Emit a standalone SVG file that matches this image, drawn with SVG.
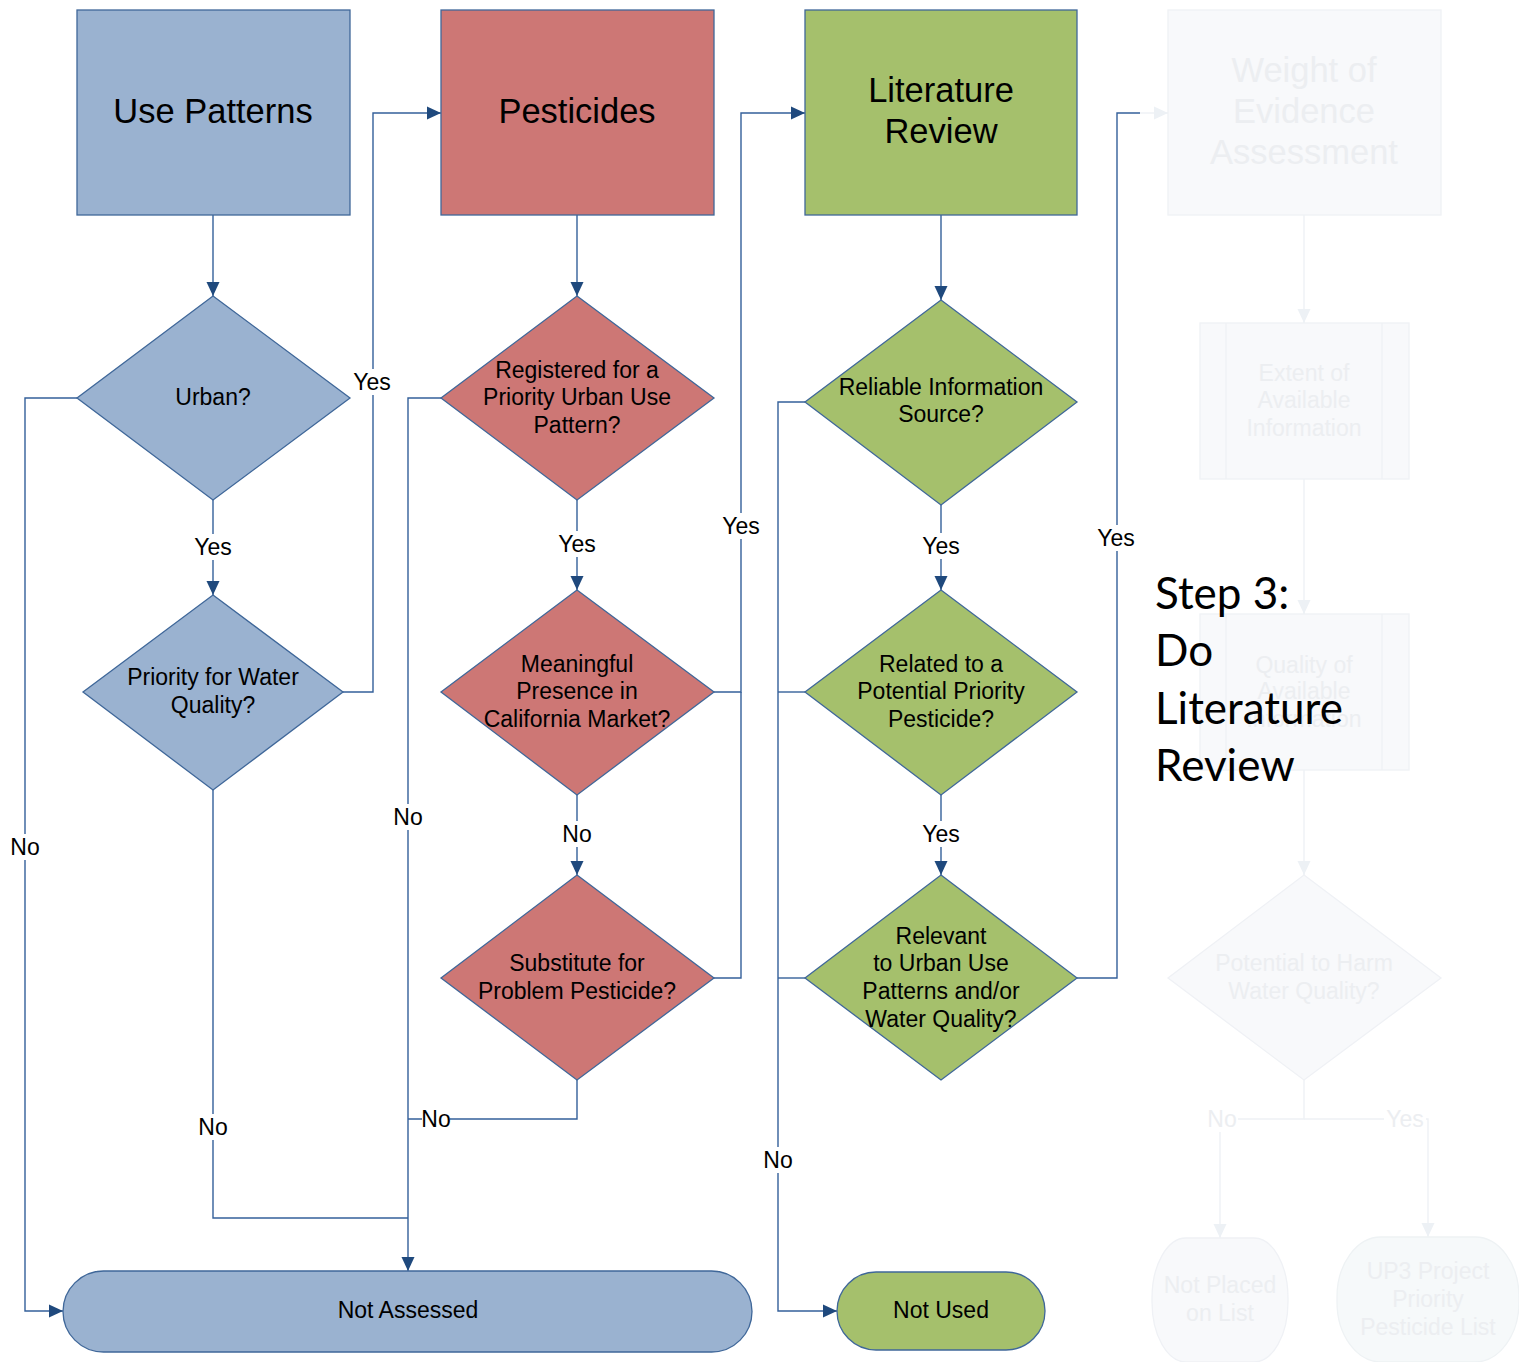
<svg xmlns="http://www.w3.org/2000/svg" width="1519" height="1362" viewBox="0 0 1519 1362">
  <defs>
    <marker id="arr" markerUnits="userSpaceOnUse" markerWidth="15" markerHeight="14" refX="14" refY="7" orient="auto">
      <path d="M0,0.5 L14,7 L0,13.5 z" fill="#1f497d"/>
    </marker>
    <marker id="arrF" markerUnits="userSpaceOnUse" markerWidth="15" markerHeight="14" refX="14" refY="7" orient="auto">
      <path d="M0,0.5 L14,7 L0,13.5 z" fill="#edf1f5"/>
    </marker>
  </defs>
  <style>
    .t { font-family: "Liberation Sans", Arial, sans-serif; fill: #000; text-anchor: middle; }
    .hd { font-size: 34.5px; }
    .q { font-size: 23px; }
    .lbl { font-size: 23px; }
    .blue { fill: #9ab2d0; stroke: #3f6799; stroke-width: 1.3; }
    .red { fill: #cd7775; stroke: #3f6799; stroke-width: 1.3; }
    .green { fill: #a5c06c; stroke: #3f6799; stroke-width: 1.3; }
    .fade { fill: #f8f9fb; stroke: #eff1f5; stroke-width: 1.3; }
    .fadeT { fill: #eceef1; }
    .conn { fill: none; stroke: #34609a; stroke-width: 1.4; }
    .connF { fill: none; stroke: #eef1f5; stroke-width: 1.4; }
    .bg { fill: #fff; }
    .step { font-family: Lato, "Open Sans", sans-serif; font-size: 44px; fill: #000; }
  </style>
  <rect width="1519" height="1362" fill="#fff"/>

  <!-- connectors -->
  <g id="connectors">
    <path class="conn" d="M213,215 V296" marker-end="url(#arr)"/>
    <path class="conn" d="M213,500 V595" marker-end="url(#arr)"/>
    <path class="conn" d="M77,398 H25 V1311 H63" marker-end="url(#arr)"/>
    <path class="conn" d="M343,692 H373 V113 H441" marker-end="url(#arr)"/>
    <path class="conn" d="M213,790 V1218 H408"/>
    <path class="conn" d="M577,215 V296" marker-end="url(#arr)"/>
    <path class="conn" d="M441,398 H408 V1271" marker-end="url(#arr)"/>
    <path class="conn" d="M577,500 V590" marker-end="url(#arr)"/>
    <path class="conn" d="M714,692 H741 V113 H805" marker-end="url(#arr)"/>
    <path class="conn" d="M577,795 V875" marker-end="url(#arr)"/>
    <path class="conn" d="M714,978 H741 V692"/>
    <path class="conn" d="M577,1080 V1119 H408"/>
    <path class="conn" d="M941,215 V300" marker-end="url(#arr)"/>
    <path class="conn" d="M805,402 H778 V1311 H837" marker-end="url(#arr)"/>
    <path class="conn" d="M805,692 H778"/>
    <path class="conn" d="M805,978 H778"/>
    <path class="conn" d="M941,505 V590" marker-end="url(#arr)"/>
    <path class="conn" d="M941,795 V875" marker-end="url(#arr)"/>
    <path class="conn" d="M1077,978 H1117 V113 H1140"/>
    <path class="connF" d="M1140,113 H1168" marker-end="url(#arrF)"/>
    <path class="connF" d="M1304,215 V323" marker-end="url(#arrF)"/>
    <path class="connF" d="M1304,479 V614" marker-end="url(#arrF)"/>
    <path class="connF" d="M1304,770 V875" marker-end="url(#arrF)"/>
    <path class="connF" d="M1304,1080 V1119 H1220 V1238" marker-end="url(#arrF)"/>
    <path class="connF" d="M1304,1119 H1428 V1237" marker-end="url(#arrF)"/>

    <!-- connector labels -->
    <g id="labels">
      <rect class="bg" x="192" y="534" width="42" height="26"/>
      <text class="t lbl" x="213" y="555">Yes</text>
      <rect class="bg" x="351" y="369" width="42" height="26"/>
      <text class="t lbl" x="372" y="390">Yes</text>
      <rect class="bg" x="9" y="834" width="32" height="26"/>
      <text class="t lbl" x="25" y="855">No</text>
      <rect class="bg" x="197" y="1114" width="32" height="26"/>
      <text class="t lbl" x="213" y="1135">No</text>
      <rect class="bg" x="392" y="804" width="32" height="26"/>
      <text class="t lbl" x="408" y="825">No</text>
      <rect class="bg" x="556" y="531" width="42" height="26"/>
      <text class="t lbl" x="577" y="552">Yes</text>
      <rect class="bg" x="561" y="821" width="32" height="26"/>
      <text class="t lbl" x="577" y="842">No</text>
      <rect class="bg" x="422" y="1106" width="28" height="26"/>
      <text class="t lbl" x="436" y="1127">No</text>
      <rect class="bg" x="720" y="513" width="42" height="26"/>
      <text class="t lbl" x="741" y="534">Yes</text>
      <rect class="bg" x="920" y="533" width="42" height="26"/>
      <text class="t lbl" x="941" y="554">Yes</text>
      <rect class="bg" x="920" y="821" width="42" height="26"/>
      <text class="t lbl" x="941" y="842">Yes</text>
      <rect class="bg" x="762" y="1147" width="32" height="26"/>
      <text class="t lbl" x="778" y="1168">No</text>
      <rect class="bg" x="1095" y="525" width="42" height="26"/>
      <text class="t lbl" x="1116" y="546">Yes</text>
      <rect class="bg" x="1206" y="1106" width="32" height="26"/>
      <text class="t lbl fadeT" x="1222" y="1127">No</text>
      <rect class="bg" x="1384" y="1106" width="42" height="26"/>
      <text class="t lbl fadeT" x="1405" y="1127">Yes</text>
    </g>
  </g>

  <!-- column 1: use patterns -->
  <g id="use-patterns">
    <rect class="blue" x="77" y="10" width="273" height="205"/>
    <text class="t hd" x="213" y="123">Use Patterns</text>
  </g>
  <g id="urban">
    <polygon class="blue" points="213,296 350,398 213,500 77,398"/>
    <text class="t q" x="213" y="405">Urban?</text>
  </g>
  <g id="priority-water">
    <polygon class="blue" points="213,595 343,692 213,790 83,692"/>
    <text class="t q" x="213" y="685">Priority for Water</text>
    <text class="t q" x="213" y="713">Quality?</text>
  </g>

  <!-- column 2: pesticides -->
  <g id="pesticides">
    <rect class="red" x="441" y="10" width="273" height="205"/>
    <text class="t hd" x="577" y="123">Pesticides</text>
  </g>
  <g id="registered">
    <polygon class="red" points="577,296 714,398 577,500 441,398"/>
    <text class="t q" x="577" y="378">Registered for a</text>
    <text class="t q" x="577" y="405">Priority Urban Use</text>
    <text class="t q" x="577" y="433">Pattern?</text>
  </g>
  <g id="meaningful">
    <polygon class="red" points="577,590 714,692 577,795 441,692"/>
    <text class="t q" x="577" y="672">Meaningful</text>
    <text class="t q" x="577" y="699">Presence in</text>
    <text class="t q" x="577" y="727">California Market?</text>
  </g>
  <g id="substitute">
    <polygon class="red" points="577,875 714,978 577,1080 441,978"/>
    <text class="t q" x="577" y="971">Substitute for</text>
    <text class="t q" x="577" y="999">Problem Pesticide?</text>
  </g>

  <!-- column 3: literature review -->
  <g id="literature-review">
    <rect class="green" x="805" y="10" width="272" height="205"/>
    <text class="t hd" x="941" y="102">Literature</text>
    <text class="t hd" x="941" y="143">Review</text>
  </g>
  <g id="reliable">
    <polygon class="green" points="941,300 1077,402 941,505 805,402"/>
    <text class="t q" x="941" y="395">Reliable Information</text>
    <text class="t q" x="941" y="422">Source?</text>
  </g>
  <g id="related">
    <polygon class="green" points="941,590 1077,692 941,795 805,692"/>
    <text class="t q" x="941" y="672">Related to a</text>
    <text class="t q" x="941" y="699">Potential Priority</text>
    <text class="t q" x="941" y="727">Pesticide?</text>
  </g>
  <g id="relevant">
    <polygon class="green" points="941,875 1077,978 941,1080 805,978"/>
    <text class="t q" x="941" y="944">Relevant</text>
    <text class="t q" x="941" y="971">to Urban Use</text>
    <text class="t q" x="941" y="999">Patterns and/or</text>
    <text class="t q" x="941" y="1027">Water Quality?</text>
  </g>

  <!-- terminals -->
  <g id="not-assessed">
    <rect class="blue" x="63" y="1271" width="689" height="81" rx="40.5"/>
    <text class="t q" x="408" y="1318">Not Assessed</text>
  </g>
  <g id="not-used">
    <rect class="green" x="837" y="1272" width="208" height="78" rx="39"/>
    <text class="t q" x="941" y="1318">Not Used</text>
  </g>

  <!-- column 4: weight of evidence (muted) -->
  <g id="weight-of-evidence">
    <rect class="fade" x="1168" y="10" width="273" height="205"/>
    <text class="t hd fadeT" x="1304" y="82">Weight of</text>
    <text class="t hd fadeT" x="1304" y="123">Evidence</text>
    <text class="t hd fadeT" x="1304" y="164">Assessment</text>
  </g>
  <g id="extent">
    <rect class="fade" x="1200" y="323" width="209" height="156"/>
    <path class="fade" d="M1226,323 V479 M1382,323 V479"/>
    <text class="t q fadeT" x="1304" y="381">Extent of</text>
    <text class="t q fadeT" x="1304" y="408">Available</text>
    <text class="t q fadeT" x="1304" y="436">Information</text>
  </g>
  <g id="quality">
    <rect class="fade" x="1200" y="614" width="209" height="156"/>
    <path class="fade" d="M1226,614 V770 M1382,614 V770"/>
    <text class="t q fadeT" x="1304" y="673">Quality of</text>
    <text class="t q fadeT" x="1304" y="699">Available</text>
    <text class="t q fadeT" x="1304" y="727">Information</text>
  </g>
  <g id="potential-harm">
    <polygon class="fade" points="1304,875 1441,978 1304,1080 1168,978"/>
    <text class="t q fadeT" x="1304" y="971">Potential to Harm</text>
    <text class="t q fadeT" x="1304" y="999">Water Quality?</text>
  </g>
  <g id="not-placed">
    <rect class="fade" x="1152" y="1238" width="136" height="124" rx="34" ry="60"/>
    <text class="t q fadeT" x="1220" y="1293">Not Placed</text>
    <text class="t q fadeT" x="1220" y="1321">on List</text>
  </g>
  <g id="up3-list">
    <rect x="1337" y="1237" width="182" height="125" rx="44" ry="60" fill="#f6f9fa" stroke="#eef2f4" stroke-width="1.3"/>
    <text class="t q fadeT" x="1428" y="1279">UP3 Project</text>
    <text class="t q fadeT" x="1428" y="1307">Priority</text>
    <text class="t q fadeT" x="1428" y="1335">Pesticide List</text>
  </g>

  <!-- step caption -->
  <g id="step-caption">
    <text class="step" x="1155" y="609">Step 3:</text>
    <text class="step" x="1155" y="666">Do</text>
    <text class="step" x="1155" y="724">Literature</text>
    <text class="step" x="1155" y="781">Review</text>
  </g>
</svg>
